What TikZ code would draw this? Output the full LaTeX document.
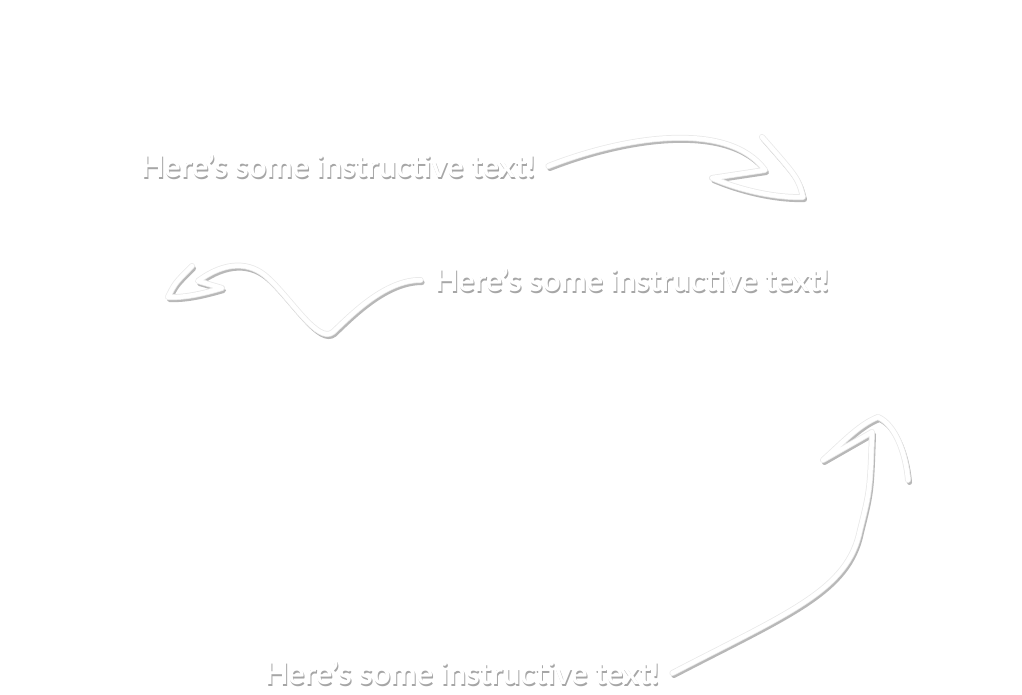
\documentclass[tikz,border=0pt]{standalone}
\usepackage{fontspec}
\setmainfont{Lato}
\usetikzlibrary{positioning}

\begin{document}
\begin{tikzpicture}[
        x=1pt, y=-1pt,
        note/.style={
                inner sep=0pt,
                text=white,
                font=\fontsize{31}{31}\selectfont\bfseries
            },
        noteshadow/.style={
                note,
                text=black!35
            },
        squiggle/.style={
                draw=white,
                line width=4.5pt,
                line cap=round,
                line join=round,
                preaction={draw=black!28, line width=5pt, line cap=round, line join=round,
                        transform canvas={shift={(1.5pt,-2.5pt)}}},
                preaction={draw=black!9, line width=6pt, line cap=round, line join=round}
            }
    ]
    \useasboundingbox (0,0) rectangle (1022,695);

    % shadows behind the notes
    \node[noteshadow] (Shadow1) at (339,168) {Here's some instructive text!};
    \node[noteshadow] (Shadow2) at (633,282) {Here's some instructive text!};
    \node[noteshadow] (Shadow3) at (463,675) {Here's some instructive text!};

    \node[note] (Note1) at (338,166) {Here's some instructive text!};
    \node[note] (Note2) at (632,280) {Here's some instructive text!};
    \node[note] (Note3) at (462,673) {Here's some instructive text!};

    \coordinate (Tip1) at (803,197);
    \coordinate (Tip2) at (168,297);
    \coordinate (Tip3) at (878,417);

    \path[squiggle] ([xshift=13pt]Note1.east) .. controls (625,136) and (728,120) .. (765,170)
        -- (712,178) .. controls (745,192) and (780,198) .. (Tip1)
        .. controls (798,178) .. (762,137);
    \path[squiggle] ([xshift=-14pt]Note2.west) .. controls (385,280) and (352,314) .. (333,332)
        .. controls (318,344) and (292,300) .. (268,278)
        .. controls (250,261) and (225,261) .. (198,281)
        -- (222,288) .. controls (205,293) and (185,298) .. (Tip2)
        .. controls (175,283) .. (192,266);
    \path[squiggle] ([xshift=13pt]Note3.east) .. controls (790,612) and (848,590) .. (860,530)
        .. controls (870,490) .. (872,432)
        -- (823,460) .. controls (845,440) and (860,424) .. (Tip3)
        .. controls (896,425) and (906,455) .. (908,480);
\end{tikzpicture}
\end{document}
